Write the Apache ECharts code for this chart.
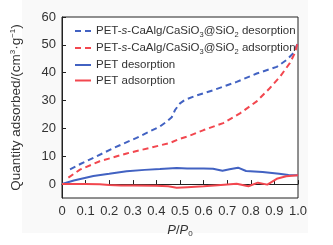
<!DOCTYPE html>
<html lang="en">
<head>
    <meta charset="UTF-8">
    <title>Isotherms</title>
    <script src="https://cdn.jsdelivr.net/npm/echarts@6/dist/echarts.min.js"></script>
    <style>
        body { margin: 0; background: #fff; }
    </style>
</head>
<body>
<div id="main" style="width:333px;height:245px;"></div>
<script>
    // P/P0 values and quantity adsorbed
    var compDesP = [0.034, 0.08, 0.133, 0.217, 0.316, 0.415, 0.443, 0.465, 0.479, 0.5, 0.52, 0.57, 0.64, 0.74, 0.825, 0.91, 0.952, 0.98, 1.0];
    var compDesV = [5.3, 7.3, 9.4, 12.9, 16.6, 20.7, 22.4, 24.0, 26.6, 29.0, 30.2, 31.8, 33.7, 36.7, 39.7, 42.1, 44.6, 47.0, 50.8];

    var compAdsP = [0.027, 0.076, 0.16, 0.274, 0.373, 0.458, 0.5, 0.535, 0.6, 0.683, 0.754, 0.825, 0.88, 0.924, 0.966, 0.987, 1.0];
    var compAdsV = [2.3, 5.2, 8.2, 11.0, 13.0, 14.8, 16.3, 17.2, 19.4, 21.9, 25.4, 29.7, 34.4, 38.6, 43.5, 47.1, 51.2];

    var petDesP = [0, 0.05, 0.133, 0.2, 0.274, 0.35, 0.415, 0.486, 0.53, 0.6, 0.64, 0.68, 0.71, 0.746, 0.78, 0.85, 0.92, 0.96, 1.0];
    var petDesV = [0, 1.3, 2.9, 3.7, 4.6, 5.1, 5.4, 5.8, 5.6, 5.6, 5.5, 4.8, 5.3, 5.9, 4.7, 4.3, 3.7, 3.3, 3.2];

    var petAdsP = [0, 0.1, 0.16, 0.2, 0.25, 0.3, 0.4, 0.45, 0.486, 0.53, 0.6, 0.66, 0.74, 0.79, 0.83, 0.87, 0.91, 0.95, 1.0];
    var petAdsV = [0, 0, -0.1, -0.3, -0.5, -0.5, -0.6, -0.8, -1.3, -1.1, -0.8, -0.4, 0.1, -0.8, 0.5, -0.2, 1.9, 2.8, 3.2];

    var xTicks = [0, 0.1, 0.2, 0.3, 0.4, 0.5, 0.6, 0.7, 0.8, 0.9, 1.0];
    var yTicks = [0, 10, 20, 30, 40, 50, 60];

    var blue = '#4262c2';
    var red = '#f2474f';
    var ink = '#333';

    function pairs(xs, ys) {
        return xs.map(function (x, i) { return [x, ys[i]]; });
    }

    var subRich = {
        a: {fontSize: 11.5, color: ink, fontFamily: 'Liberation Sans'},
        i: {fontSize: 11.5, color: ink, fontStyle: 'italic', fontFamily: 'Liberation Sans'},
        sub: {fontSize: 7.5, color: ink, padding: [7, 0, 0, 0], fontFamily: 'Liberation Sans'}
    };

    var myChart = echarts.init(document.getElementById('main'));
    myChart.setOption({
        backgroundColor: '#fff',
        animation: false,
        graphic: [{
            type: 'rect', z: -10,
            shape: {x: 22, y: 0, width: 286, height: 233},
            style: {fill: '#f9f9f9'}
        }],
        grid: {
            left: 62, right: 35, top: 17, bottom: 47,
            show: true, backgroundColor: '#fff',
            borderColor: '#222', borderWidth: 1
        },
        legend: {
            orient: 'vertical',
            left: 69, top: 20,
            itemWidth: 16, itemHeight: 10,
            itemGap: 3.5,
            itemStyle: {opacity: 0},
            data: ['d1', 'a1', 'd2', 'a2'],
            textStyle: {rich: subRich},
            formatter: function (name) {
                if (name === 'd1') return '{a|PET-}{i|s}{a|-CaAlg/CaSiO}{sub|3}{a|@SiO}{sub|2}{a| desorption}';
                if (name === 'a1') return '{a|PET-}{i|s}{a|-CaAlg/CaSiO}{sub|3}{a|@SiO}{sub|2}{a| adsorption}';
                if (name === 'd2') return '{a|PET desorption}';
                return '{a|PET adsorption}';
            }
        },
        xAxis: {
            type: 'value',
            min: 0, max: 1, interval: 0.1,
            name: '{i|P}{a|/}{i|P}{sub|0}',
            nameLocation: 'middle',
            nameGap: 24,
            nameTextStyle: {
                rich: {
                    a: {fontSize: 13, color: ink, fontFamily: 'Liberation Sans'},
                    i: {fontSize: 13, color: ink, fontStyle: 'italic', fontFamily: 'Liberation Sans'},
                    sub: {fontSize: 8, color: ink, padding: [8, 0, 0, 0], fontFamily: 'Liberation Sans'}
                }
            },
            axisLine: {lineStyle: {color: '#222', width: 1}},
            axisTick: {inside: true, length: 4, lineStyle: {color: '#222'}},
            axisLabel: {
                color: ink, fontSize: 13, fontFamily: 'Liberation Sans', margin: 7,
                customValues: xTicks,
                formatter: function (v) { return v === 0 ? '0' : v.toFixed(1); }
            },
            splitLine: {show: false}
        },
        yAxis: {
            type: 'value',
            min: -5, max: 60,
            name: '{a|Quantity adsorbed/(cm}{sup|3}{a|·g}{sup|−1}{a|)}',
            nameLocation: 'middle',
            nameGap: 38,
            nameRotate: 90,
            nameTextStyle: {
                rich: {
                    a: {fontSize: 13.5, color: ink, fontFamily: 'Liberation Sans'},
                    sup: {fontSize: 8, color: ink, padding: [0, 0, 7, 0], fontFamily: 'Liberation Sans'}
                }
            },
            axisLine: {show: true, lineStyle: {color: '#222', width: 1}},
            axisTick: {inside: true, length: 4, lineStyle: {color: '#222'}, customValues: yTicks},
            axisLabel: {
                color: ink, fontSize: 13, fontFamily: 'Liberation Sans', margin: 6,
                customValues: yTicks
            },
            splitLine: {show: false}
        },
        series: [
            {name: 'd1', type: 'line', symbol: 'none', data: pairs(compDesP, compDesV), color: blue,
                lineStyle: {color: blue, width: 2, type: [6, 4]}},
            {name: 'a1', type: 'line', symbol: 'none', data: pairs(compAdsP, compAdsV), color: red,
                lineStyle: {color: red, width: 2, type: [6, 4]}},
            {name: 'd2', type: 'line', symbol: 'none', data: pairs(petDesP, petDesV), color: blue,
                lineStyle: {color: blue, width: 2}},
            {name: 'a2', type: 'line', symbol: 'none', data: pairs(petAdsP, petAdsV), color: red,
                lineStyle: {color: red, width: 2}}
        ]
    });
</script>
</body>
</html>
